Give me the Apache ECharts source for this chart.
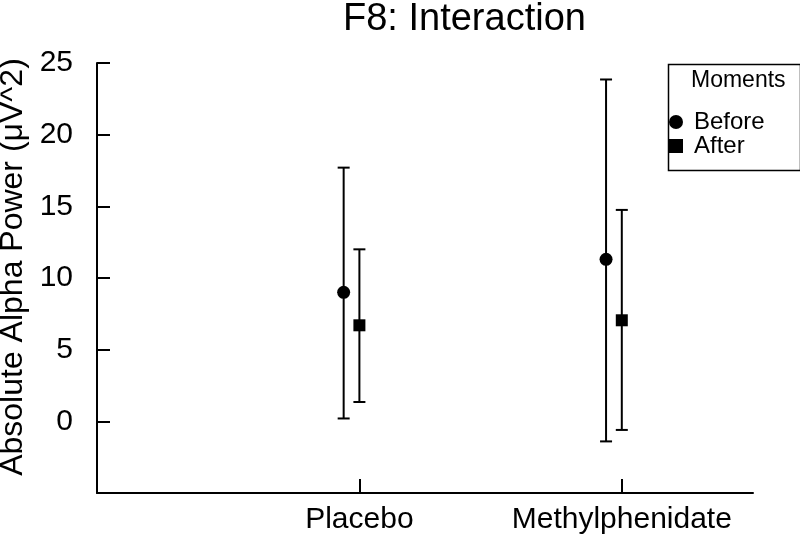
<!DOCTYPE html>
<html>
<head>
<meta charset="utf-8">
<script src="https://cdn.jsdelivr.net/npm/echarts@6/dist/echarts.min.js"></script>
<style>
  html, body { margin: 0; padding: 0; background: #fff; }
  #chart { width: 800px; height: 542px; }
</style>
</head>
<body>
<div id="chart"></div>
<script>
// data
const categories = ['Placebo', 'Methylphenidate'];
const beforeMean = [9.0, 11.3];
const beforeLow = [0.2, -1.4];
const beforeHigh = [17.7, 23.85];
const afterMean = [6.7, 7.05];
const afterLow = [1.35, -0.6];
const afterHigh = [12.0, 14.75];
const yTicks = [0, 5, 10, 15, 20, 25];

const dodge = 0.06; // "Before" sits a bit left of the category tick
const font = 'Liberation Sans, Arial, sans-serif';

const catPos = categories.map((c, i) => i + 1);
const beforeX = catPos.map((p) => p - dodge);
const afterX = catPos;

function errorBars(xs, lows, highs) {
  return xs.map((x, i) => [x, lows[i], highs[i]]);
}

function renderBar(params, api) {
  const x = api.value(0);
  const lo = api.coord([x, api.value(1)]);
  const hi = api.coord([x, api.value(2)]);
  const cap = 6;
  const style = { stroke: '#000', lineWidth: 2 };
  return {
    type: 'group',
    children: [
      { type: 'line', shape: { x1: lo[0], y1: lo[1], x2: hi[0], y2: hi[1] }, style },
      { type: 'line', shape: { x1: hi[0] - cap, y1: hi[1], x2: hi[0] + cap, y2: hi[1] }, style },
      { type: 'line', shape: { x1: lo[0] - cap, y1: lo[1], x2: lo[0] + cap, y2: lo[1] }, style },
    ],
  };
}

const chart = echarts.init(document.getElementById('chart'));
chart.setOption({
  animation: false,
  textStyle: { fontFamily: font },
  title: [
    {
      text: 'F8: Interaction',
      left: 338,
      top: -4,
      textStyle: { fontSize: 38, fontWeight: 'normal', color: '#000', fontFamily: font },
    },
    {
      text: 'Moments',
      left: 691,
      top: 69,
      padding: 0,
      textStyle: { fontSize: 23, fontWeight: 'normal', color: '#000', fontFamily: font },
    },
  ],
  graphic: [
    {
      type: 'rect',
      left: 666,
      top: 62,
      shape: { width: 132, height: 106 },
      style: { fill: 'none', stroke: '#000', lineWidth: 1.5 },
    },
  ],
  legend: {
    orient: 'vertical',
    left: 669,
    top: 110,
    padding: 0,
    itemWidth: 14,
    itemHeight: 14,
    itemGap: 0,
    data: [
      { name: 'Before', icon: 'circle' },
      { name: 'After', icon: 'rect' },
    ],
    textStyle: { fontSize: 24, color: '#000', fontFamily: font, padding: [0, 0, 0, 6] },
  },
  grid: { left: 97, right: 47, top: 63, bottom: 49, outerBoundsMode: 'none', containLabel: false },
  xAxis: {
    type: 'value',
    min: 0,
    max: 2.5,
    interval: 1,
    splitLine: { show: false },
    axisLine: { onZero: false, lineStyle: { color: '#000', width: 2 } },
    axisTick: { inside: true, length: 14, customValues: catPos, lineStyle: { color: '#000', width: 2 } },
    axisLabel: {
      margin: 12,
      fontSize: 30,
      color: '#000',
      fontFamily: font,
      customValues: catPos,
      formatter: (v) => categories[v - 1] || '',
    },
  },
  yAxis: {
    type: 'value',
    min: -5,
    max: 25,
    interval: 5,
    name: 'Absolute Alpha Power (μV^2)',
    nameLocation: 'middle',
    nameGap: 60,
    nameTextStyle: { fontSize: 32, color: '#000', fontFamily: font, padding: [0, 0, 0, 22] },
    splitLine: { show: false },
    axisLine: { show: true, onZero: false, lineStyle: { color: '#000', width: 2 } },
    axisTick: { show: true, inside: true, length: 13, customValues: yTicks, lineStyle: { color: '#000', width: 2 } },
    axisLabel: {
      margin: 24,
      fontSize: 30,
      color: '#000',
      fontFamily: font,
      customValues: yTicks,
    },
  },
  series: [
    {
      name: 'Before',
      type: 'custom',
      renderItem: renderBar,
      data: errorBars(beforeX, beforeLow, beforeHigh),
      itemStyle: { color: '#000' },
      z: 2,
    },
    {
      name: 'After',
      type: 'custom',
      renderItem: renderBar,
      data: errorBars(afterX, afterLow, afterHigh),
      itemStyle: { color: '#000' },
      z: 2,
    },
    {
      name: 'Before',
      type: 'scatter',
      symbol: 'circle',
      symbolSize: 13,
      data: beforeX.map((x, i) => [x, beforeMean[i]]),
      itemStyle: { color: '#000', opacity: 1 },
      z: 3,
    },
    {
      name: 'After',
      type: 'scatter',
      symbol: 'rect',
      symbolSize: 12,
      data: afterX.map((x, i) => [x, afterMean[i]]),
      itemStyle: { color: '#000', opacity: 1 },
      z: 3,
    },
  ],
});
</script>
</body>
</html>
